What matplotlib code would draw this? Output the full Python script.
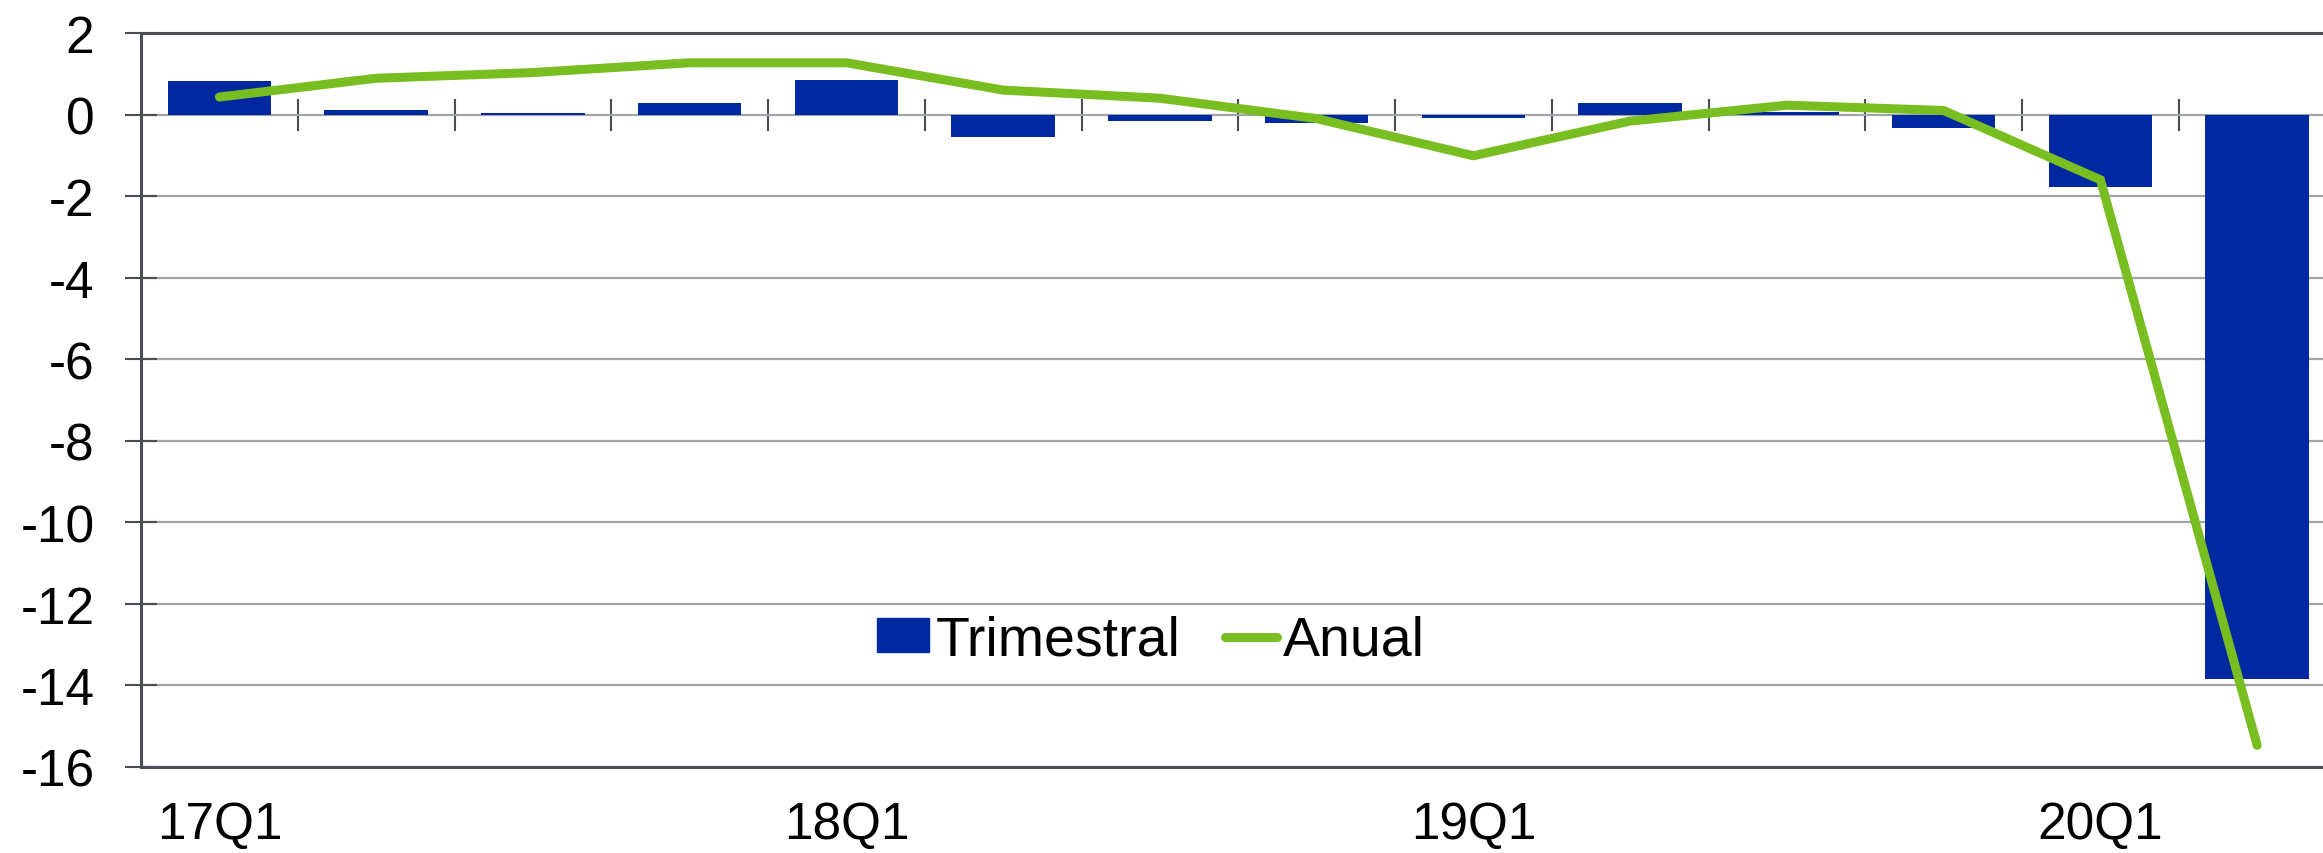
import matplotlib
matplotlib.use("Agg")
import matplotlib.pyplot as plt
from matplotlib.patches import Patch
from matplotlib.lines import Line2D

plt.rcParams['font.family'] = ['Liberation Sans', 'DejaVu Sans']
plt.rcParams['axes.unicode_minus'] = False

# quarterly data, 17Q1 .. 20Q2
quarters = ['17Q1', '17Q2', '17Q3', '17Q4',
            '18Q1', '18Q2', '18Q3', '18Q4',
            '19Q1', '19Q2', '19Q3', '19Q4',
            '20Q1', '20Q2']
trimestral = [0.83, 0.12, 0.05, 0.29, 0.84, -0.55, -0.15, -0.21,
              -0.09, 0.29, 0.07, -0.33, -1.78, -13.84]
anual = [0.43, 0.89, 1.03, 1.27, 1.27, 0.60, 0.40, -0.10,
         -1.01, -0.16, 0.23, 0.10, -1.60, -15.47]

blue = '#0029A1'
green = '#78BE20'
dark = '#4A4E54'
grid = '#A0A4A8'

W, H = 2323, 854
fig = plt.figure(figsize=(W / 100, H / 100), dpi=100)
ax = fig.add_axes([141 / W, 1 - 768 / H, (W - 141) / W, (768 - 34) / H])

x = list(range(len(quarters)))
ax.bar(x, trimestral, width=0.66, color=blue, zorder=2)
ax.plot(x, anual, color=green, lw=6.5, solid_capstyle='round',
        solid_joinstyle='miter', zorder=3)

ax.set_ylim(-16, 2)
ax.set_xlim(-0.5, 13.42)
ax.set_yticks(range(-16, 3, 2))
ax.yaxis.grid(True, color=grid, lw=1.6, zorder=0)
ax.tick_params(axis='y', direction='inout', length=23, width=1.5,
               color=dark, labelsize=37, pad=22)

# labels only on the first quarter of each year
ax.set_xticks([i for i, q in enumerate(quarters) if q.endswith('Q1')])
ax.set_xticklabels([q for q in quarters if q.endswith('Q1')])
ax.tick_params(axis='x', length=0, labelsize=37, pad=24)

for side in ['left', 'bottom', 'top']:
    ax.spines[side].set_color(dark)
    ax.spines[side].set_linewidth(2.2)
ax.spines['right'].set_visible(False)

# zero line carrying the category separators
zero = ax.secondary_xaxis(16 / 18)
zero.set_xticks([i + 0.5 for i in x])
zero.tick_params(direction='inout', length=23, width=1.5, color=dark,
                 labelbottom=False, labeltop=False)
zero.spines['bottom'].set_color(dark)
zero.spines['bottom'].set_linewidth(2.5)
for s in ['top', 'left', 'right']:
    zero.spines[s].set_visible(False)

handles = [Patch(color=blue, label='Trimestral'),
           Line2D([0], [0], color=green, lw=6.5, solid_capstyle='round',
                  label='Anual')]
ax.legend(handles=handles, loc='center', bbox_to_anchor=(0.463, 0.172),
          ncol=2, frameon=False, fontsize=40, handlelength=0.93,
          handleheight=0.55, handletextpad=0.12, columnspacing=0.8,
          borderpad=0)

fig.savefig('out.png', dpi=100)
